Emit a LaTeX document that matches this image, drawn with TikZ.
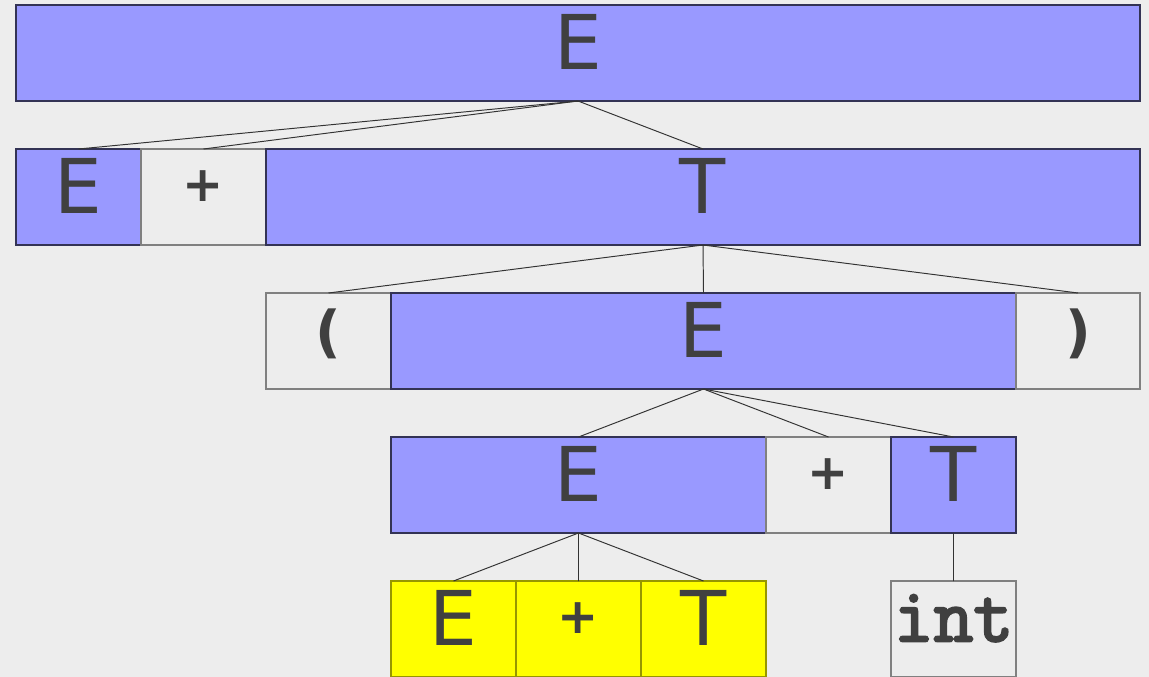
\documentclass[tikz,border=0pt]{standalone}
\usepackage{fontspec}
\setsansfont{DejaVu Sans}
\newfontfamily\codefont[FakeBold=3]{Latin Modern Mono}
\usetikzlibrary{positioning}

\definecolor{bgcol}{RGB}{237,237,237}
\definecolor{ntblue}{RGB}{153,153,255}
\definecolor{ntline}{RGB}{51,51,85}
\definecolor{hiyellow}{RGB}{255,255,0}
\definecolor{hiline}{RGB}{150,150,0}
\definecolor{tline}{RGB}{128,128,128}
\definecolor{txtcol}{RGB}{64,64,64}

\begin{document}
\begin{tikzpicture}[
    node distance=0pt,
    cell/.style={rectangle, inner sep=0pt, outer sep=0pt, minimum height=1.92cm, minimum width=2.5cm,
        line width=0.6pt, text=txtcol, text depth=0.44cm, font=\sffamily\fontsize{43}{43}\selectfont},
    nonterm/.style={cell, draw=ntline, fill=ntblue},
    term/.style={cell, draw=tline, font=\sffamily\bfseries\fontsize{28}{28}\selectfont},
    paren/.style={term, font=\sffamily\bfseries\fontsize{32}{32}\selectfont},
    hilite/.style={cell, draw=hiline, fill=hiyellow},
    codeterm/.style={term, font=\codefont\fontsize{44}{44}\selectfont},
    edge/.style={draw=black!80, line width=0.55pt}
]

\fill[bgcol] (0,0) rectangle (22.98,-13.54);
\useasboundingbox (0,0) rectangle (22.98,-13.54);

% row 1
\node[nonterm, anchor=north west, minimum width=22.48cm] (e1) at (0.32,-0.1) {E};

% row 2
\node[nonterm, anchor=north west] (e2) at (0.32,-2.98) {E};
\node[term, right=of e2] (p2) {+};
\node[nonterm, right=of p2, minimum width=17.48cm] (t2) {T};

% row 3
\node[paren, anchor=north west] (lp3) at (5.32,-5.86) {(};
\node[nonterm, right=of lp3, minimum width=12.5cm] (e3) {E};
\node[paren, right=of e3, minimum width=2.48cm] (rp3) {)};

% row 4
\node[nonterm, anchor=north west, minimum width=7.5cm] (e4) at (7.82,-8.74) {E};
\node[term, right=of e4] (p4) {+};
\node[nonterm, right=of p4] (t4) {T};

% row 5
\node[hilite, anchor=north west] (e5) at (7.82,-11.62) {E};
\node[hilite, right=of e5, font=\sffamily\bfseries\fontsize{28}{28}\selectfont] (p5) {+};
\node[hilite, right=of p5] (t5) {T};
\node[codeterm, anchor=north west] (int5) at (17.82,-11.62) {int};

\draw[edge] (e1.south) -- (e2.north);
\draw[edge] (e1.south) -- (p2.north);
\draw[edge] (e1.south) -- (t2.north);

\draw[edge] (t2.south) -- (lp3.north);
\draw[edge] (t2.south) -- (e3.north);
\draw[edge] (t2.south) -- (rp3.north);

\draw[edge] (e3.south) -- (e4.north);
\draw[edge] (e3.south) -- (p4.north);
\draw[edge] (e3.south) -- (t4.north);

\draw[edge] (e4.south) -- (e5.north);
\draw[edge] (e4.south) -- (p5.north);
\draw[edge] (e4.south) -- (t5.north);
\draw[edge] (t4.south) -- (int5.north);

\end{tikzpicture}
\end{document}
